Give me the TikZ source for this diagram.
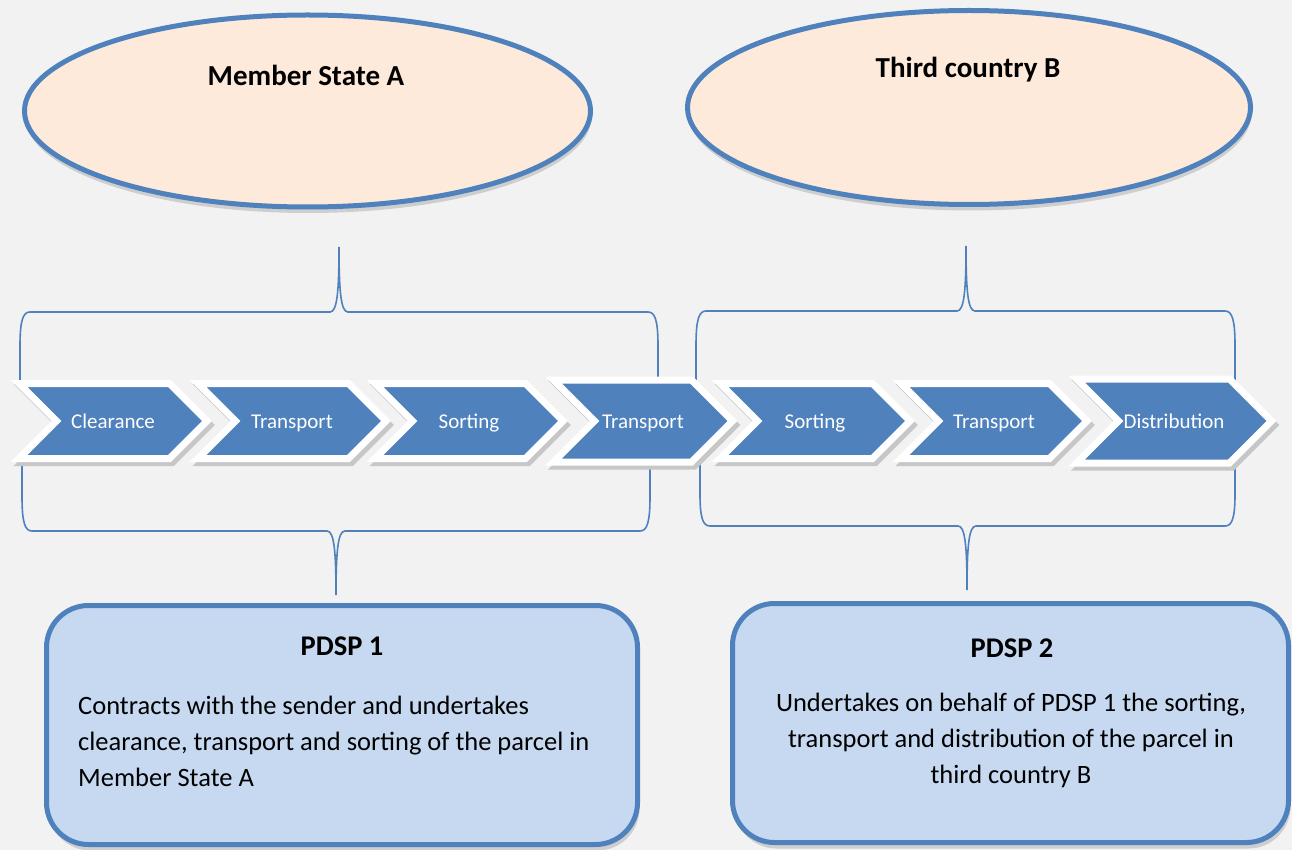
\documentclass[tikz,border=0pt]{standalone}
\usepackage{fontspec}
\setmainfont{Carlito}
\usetikzlibrary{shapes.geometric,shapes.symbols,shadows}

\definecolor{bggray}{HTML}{F2F2F2}
\definecolor{stepblue}{HTML}{4F81BD}
\definecolor{peach}{HTML}{FDEADA}
\definecolor{paleblue}{HTML}{C6D9F1}

\tikzset{
  country/.style={ellipse, draw=stepblue, line width=5pt, fill=peach,
    drop shadow={shadow xshift=1pt, shadow yshift=-6pt, fill=black!60, opacity=0.25}},
  chev/.style={signal, signal to=east, signal from=west, fill=stepblue, draw=white,
    line width=7pt, inner sep=0pt, text=white, font=\fontsize{21}{25}\selectfont,
    text height=16pt, text depth=2pt,
    drop shadow={shadow xshift=3pt, shadow yshift=-4pt, draw=black!22, fill=black!22,
      line width=7pt, opacity=1}},
  pdspbox/.style={rectangle, rounded corners=42pt, draw=stepblue, line width=5pt,
    fill=paleblue, drop shadow={shadow xshift=2pt, shadow yshift=-6pt, fill=black!60, opacity=0.25}},
  bracket/.style={draw=stepblue, line width=1.6pt},
  headline/.style={font=\bfseries\fontsize{29}{32}\selectfont},
  boxhead/.style={font=\bfseries\fontsize{28.5}{32}\selectfont},
  boxtext/.style={inner sep=0pt, font=\fontsize{26.5}{36}\selectfont}
}

% #1 left leg, #2 right leg, #3 tip x, #4 leg end y, #5 bar y, #6 tip y
\newcommand{\curlybr}[6]{%
  \draw[bracket] (#1,#4) -- (#1,{#5+0.5*(#4-#5)})
    .. controls (#1,{#5+0.12*(#4-#5)}) and ({#1+3},#5) .. ({#1+10},#5)
    -- ({#3-9},#5)
    .. controls ({#3-2},#5) and (#3,{#5+0.3*(#6-#5)}) .. (#3,#6)
    .. controls (#3,{#5+0.3*(#6-#5)}) and ({#3+2},#5) .. ({#3+9},#5)
    -- ({#2-10},#5)
    .. controls ({#2-3},#5) and (#2,{#5+0.12*(#4-#5)}) .. (#2,{#5+0.5*(#4-#5)})
    -- (#2,#4);}

\begin{document}
\begin{tikzpicture}[x=1pt, y=-1pt]
  \fill[bggray] (0,0) rectangle (1292,850);
  \useasboundingbox (0,0) rectangle (1292,850);

  \node[country, minimum width=566pt, minimum height=192pt] (stateA) at (307.5,111) {};
  \node[headline] (stateAname) at (306,75) {Member State A};
  \node[country, minimum width=563pt, minimum height=194pt] (countryB) at (969,107.5) {};
  \node[headline] (countryBname) at (968,70) {Third country B};

  \curlybr{20}{658}{339}{380}{312}{247}
  \curlybr{696}{1235}{966}{380}{311}{246}
  \curlybr{22}{650}{336}{462}{531}{595}
  \curlybr{700}{1235}{967}{462}{526}{590}

  \foreach \cx/\cw/\ch/\txt [count=\i] in {113/188/75/Clearance, 292/188/75/Transport,
      469/188/75/Sorting, 643/179/82/Transport, 815/190/75/Sorting,
      994/186/75/Transport, 1174/195/84/Distribution}
    \node[chev, minimum width=\cw pt, minimum height=\ch pt] (c\i) at (\cx,421) {\txt};

  \node[pdspbox, minimum width=591pt, minimum height=239pt] (pdsp1) at (342,725) {};
  \node[boxhead] (pdsp1head) at (342,646) {PDSP 1};
  \node[boxtext, align=left, anchor=west] (pdsp1text) at (78,741)
    {Contracts with the sender and undertakes\\
     clearance, transport and sorting of the parcel in\\
     Member State A};

  \node[pdspbox, minimum width=556pt, minimum height=239pt] (pdsp2) at (1010.5,723) {};
  \node[boxhead] (pdsp2head) at (1012,648) {PDSP 2};
  \node[boxtext, align=center] (pdsp2text) at (1011,740)
    {Undertakes on behalf of PDSP 1 the sorting,\\
     transport and distribution of the parcel in\\
     third country B};
\end{tikzpicture}
\end{document}
